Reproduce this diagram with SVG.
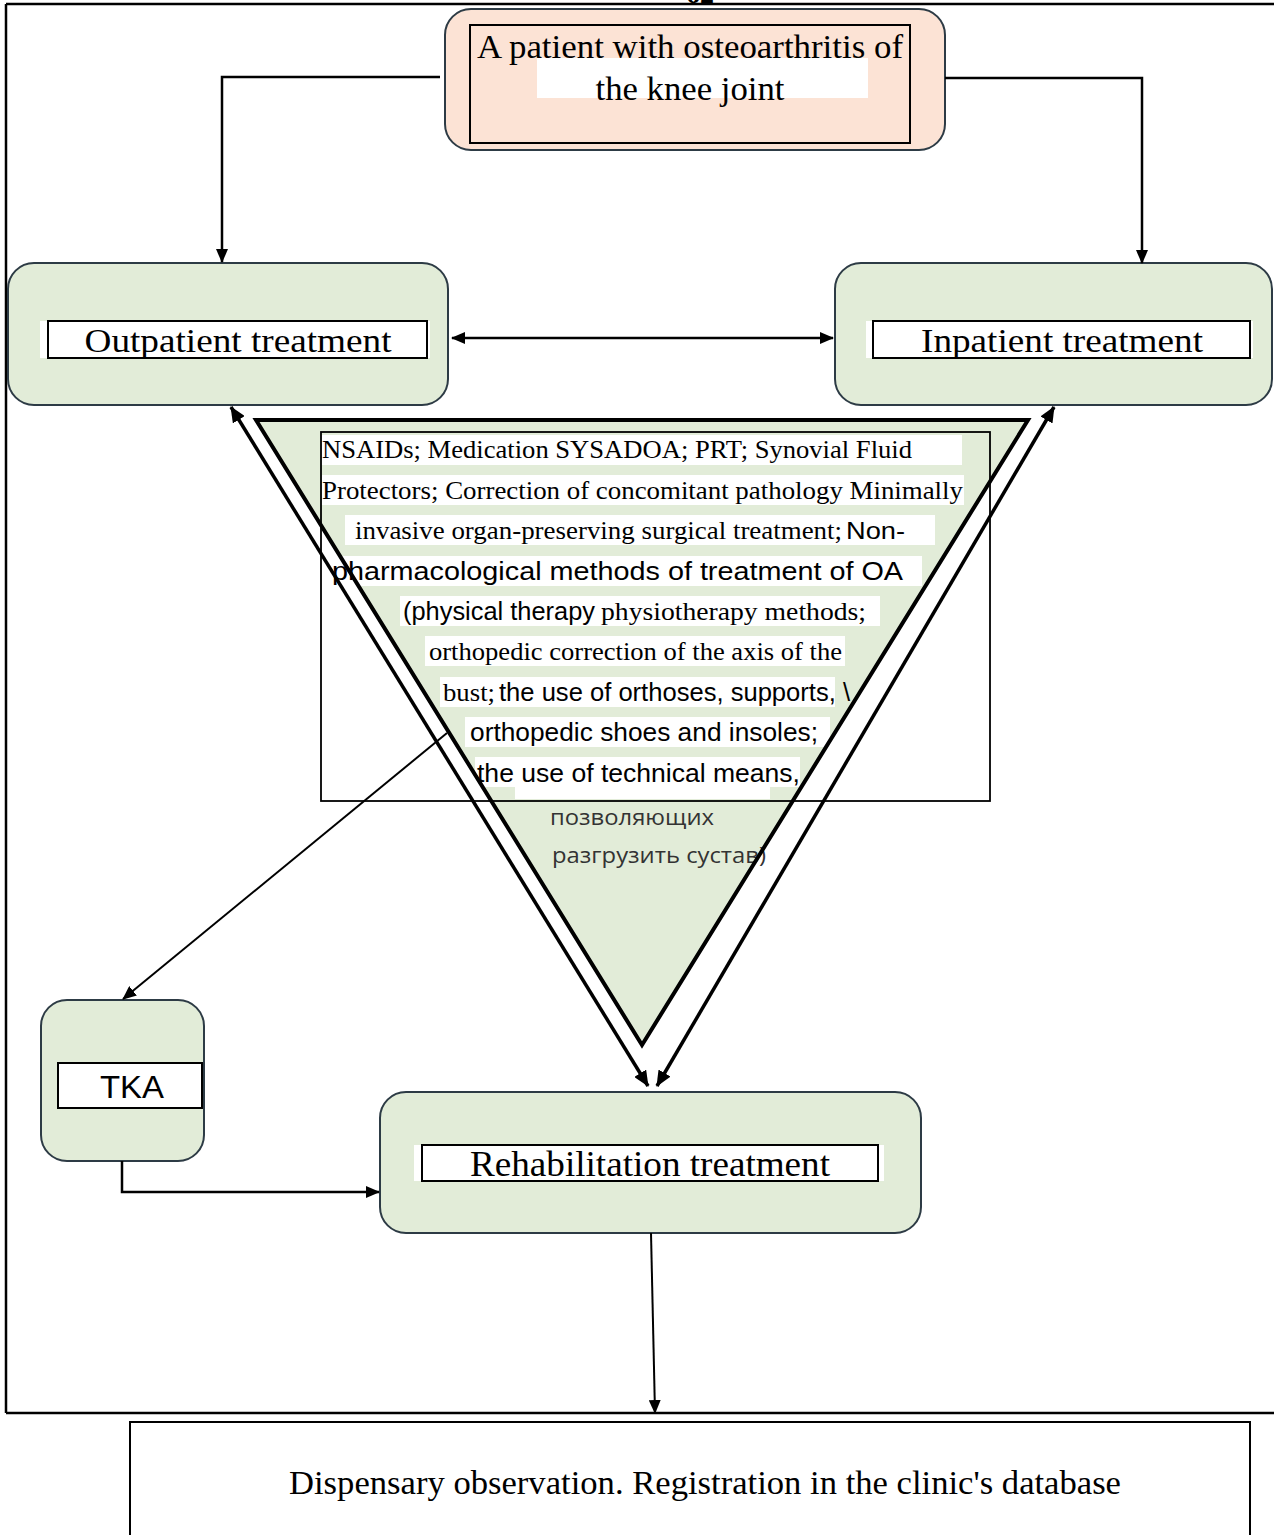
<svg xmlns="http://www.w3.org/2000/svg" width="1274" height="1535" viewBox="0 0 1274 1535">
<style>
.node{fill:#e2ecd8;stroke:#2d3b45;stroke-width:2}
.peach{fill:#fce3d5;stroke:#2d3b45;stroke-width:2}
.inner{fill:#fff;stroke:#000;stroke-width:2}
.serif{font-family:"Liberation Serif","Times New Roman",serif;fill:#000}
.sans{font-family:"Liberation Sans",Arial,sans-serif;fill:#000}
.ru{font-family:"Open Sans","Noto Sans",sans-serif;fill:#333}
.band{fill:#fff}
.conn{fill:none;stroke:#000;stroke-width:2.5}
.frame{fill:none;stroke:#000;stroke-width:2.5}
</style>
<defs>
<marker id="ah" viewBox="0 0 14 12" refX="13" refY="6" markerWidth="14" markerHeight="12" markerUnits="userSpaceOnUse" orient="auto-start-reverse">
<path d="M0,0 L14,6 L0,12 z" fill="#000"/>
</marker>
<marker id="ahb" viewBox="0 0 16 14" refX="15" refY="7" markerWidth="16" markerHeight="14" markerUnits="userSpaceOnUse" orient="auto-start-reverse">
<path d="M0,0 L16,7 L0,14 z" fill="#000"/>
</marker>
</defs>
<rect width="1274" height="1535" fill="#fff"/>
<text class="serif" x="700" y="3" font-size="28" font-weight="bold" text-anchor="middle">62</text>
<g id="frame">
<path class="frame" d="M6,4 H1274 M6,4 V1413 M6,1413 H1274"/>
</g>

<g id="triangle">
<polygon points="256,420 1028,420 642,1045" fill="#e2ecd8"/>
<rect class="band" x="322" y="435" width="640" height="30"/>
<rect class="band" x="322" y="475" width="642" height="30"/>
<rect class="band" x="345" y="515" width="590" height="30"/>
<rect class="band" x="330" y="556" width="592" height="30"/>
<rect class="band" x="400" y="596" width="480" height="30"/>
<rect class="band" x="425" y="636" width="420" height="30"/>
<rect class="band" x="440" y="677" width="395" height="30"/>
<rect class="band" x="465" y="717" width="365" height="30"/>
<rect class="band" x="475" y="757" width="325" height="30"/>
<rect class="band" x="515" y="787" width="255" height="12"/>
<rect x="321" y="432" width="669" height="369" fill="none" stroke="#000" stroke-width="1.8"/>
<text class="serif" x="322" y="458" font-size="25" textLength="590" lengthAdjust="spacingAndGlyphs">NSAIDs; Medication SYSADOA; PRT; Synovial Fluid</text>
<text class="serif" x="322" y="499" font-size="25" textLength="641" lengthAdjust="spacingAndGlyphs">Protectors;  Correction of concomitant pathology Minimally</text>
<text class="serif" x="355" y="539" font-size="25" textLength="487" lengthAdjust="spacingAndGlyphs">invasive organ-preserving surgical treatment;</text>
<text class="sans" x="846" y="539" font-size="24" textLength="59" lengthAdjust="spacingAndGlyphs">Non-</text>
<text class="sans" x="332" y="580" font-size="25" textLength="571" lengthAdjust="spacingAndGlyphs">pharmacological methods of treatment of OA</text>
<text class="sans" x="403" y="620" font-size="25" textLength="192" lengthAdjust="spacingAndGlyphs">(physical therapy</text>
<text class="serif" x="601" y="620" font-size="25" textLength="265" lengthAdjust="spacingAndGlyphs">physiotherapy methods;</text>
<text class="serif" x="429" y="660" font-size="25" textLength="413" lengthAdjust="spacingAndGlyphs">orthopedic correction of the axis of the</text>
<text class="serif" x="443" y="701" font-size="25" textLength="52" lengthAdjust="spacingAndGlyphs">bust;</text>
<text class="sans" x="499" y="701" font-size="25" textLength="351" lengthAdjust="spacingAndGlyphs">the use of orthoses, supports, \</text>
<text class="sans" x="470" y="741" font-size="25" textLength="348" lengthAdjust="spacingAndGlyphs">orthopedic shoes and insoles;</text>
<text class="sans" x="477" y="782" font-size="25" textLength="323" lengthAdjust="spacingAndGlyphs">the use of technical means,</text>
<text class="ru" x="550" y="825" font-size="22" textLength="164" lengthAdjust="spacingAndGlyphs">позволяющих</text>
<text class="ru" x="552" y="863" font-size="22" textLength="214" lengthAdjust="spacingAndGlyphs">разгрузить сустав)</text>
<polygon points="256,420 1028,420 642,1045" fill="none" stroke="#000" stroke-width="4" stroke-linejoin="miter"/>
</g>

<g id="node-patient">
<rect class="peach" x="445" y="9" width="500" height="141" rx="26"/>
<rect class="band" x="537" y="58" width="331" height="40"/>
<rect x="470" y="25" width="440" height="118" fill="none" stroke="#000" stroke-width="2"/>
<text class="serif" x="690" y="58" font-size="33" text-anchor="middle" textLength="426" lengthAdjust="spacingAndGlyphs">A patient with osteoarthritis of</text>
<text class="serif" x="690" y="100" font-size="33" text-anchor="middle" textLength="189" lengthAdjust="spacingAndGlyphs">the knee joint</text>
</g>

<g id="node-outpatient">
<rect class="node" x="8" y="263" width="440" height="142" rx="26"/>
<rect class="band" x="40" y="321" width="390" height="37"/>
<rect class="inner" x="48" y="321" width="379" height="37"/>
<text class="serif" x="238" y="352" font-size="33" text-anchor="middle" textLength="307" lengthAdjust="spacingAndGlyphs">Outpatient treatment</text>
</g>

<g id="node-inpatient">
<rect class="node" x="835" y="263" width="437" height="142" rx="26"/>
<rect class="band" x="866" y="321" width="387" height="37"/>
<rect class="inner" x="873" y="321" width="377" height="37"/>
<text class="serif" x="1062" y="352" font-size="33" text-anchor="middle" textLength="282" lengthAdjust="spacingAndGlyphs">Inpatient treatment</text>
</g>

<g id="node-tka">
<rect class="node" x="41" y="1000" width="163" height="161" rx="26"/>
<rect class="inner" x="58" y="1063" width="144" height="45"/>
<text class="sans" x="100" y="1098" font-size="31" textLength="64" lengthAdjust="spacingAndGlyphs">TKA</text>
</g>

<g id="node-rehab">
<rect class="node" x="380" y="1092" width="541" height="141" rx="26"/>
<rect class="band" x="414" y="1145" width="470" height="36"/>
<rect class="inner" x="422" y="1145" width="456" height="36"/>
<text class="serif" x="650" y="1176" font-size="35" text-anchor="middle" textLength="360" lengthAdjust="spacingAndGlyphs">Rehabilitation treatment</text>
</g>

<g id="node-dispensary">
<rect x="130" y="1422" width="1120" height="130" fill="#fff" stroke="#000" stroke-width="2"/>
<text class="serif" x="705" y="1494" font-size="33" text-anchor="middle" textLength="832" lengthAdjust="spacingAndGlyphs">Dispensary observation. Registration in the clinic's database</text>
</g>

<g id="connectors">
<path class="conn" d="M440,77 H222 V262" marker-end="url(#ah)"/>
<path class="conn" d="M945,78 H1142 V263" marker-end="url(#ah)"/>
<path class="conn" d="M452,338 H833" marker-start="url(#ah)" marker-end="url(#ah)"/>
<path fill="none" stroke="#000" stroke-width="3.5" d="M231,407 L648,1086" marker-start="url(#ahb)" marker-end="url(#ahb)"/>
<path fill="none" stroke="#000" stroke-width="3.5" d="M1054,407 L657,1086" marker-start="url(#ahb)" marker-end="url(#ahb)"/>
<path fill="none" stroke="#000" stroke-width="2" d="M447,733 L123,999" marker-end="url(#ah)"/>
<path class="conn" d="M122,1161 V1192 H379" marker-end="url(#ah)"/>
<path fill="none" stroke="#000" stroke-width="2" d="M651,1233 L655,1413" marker-end="url(#ah)"/>
</g>
</svg>
